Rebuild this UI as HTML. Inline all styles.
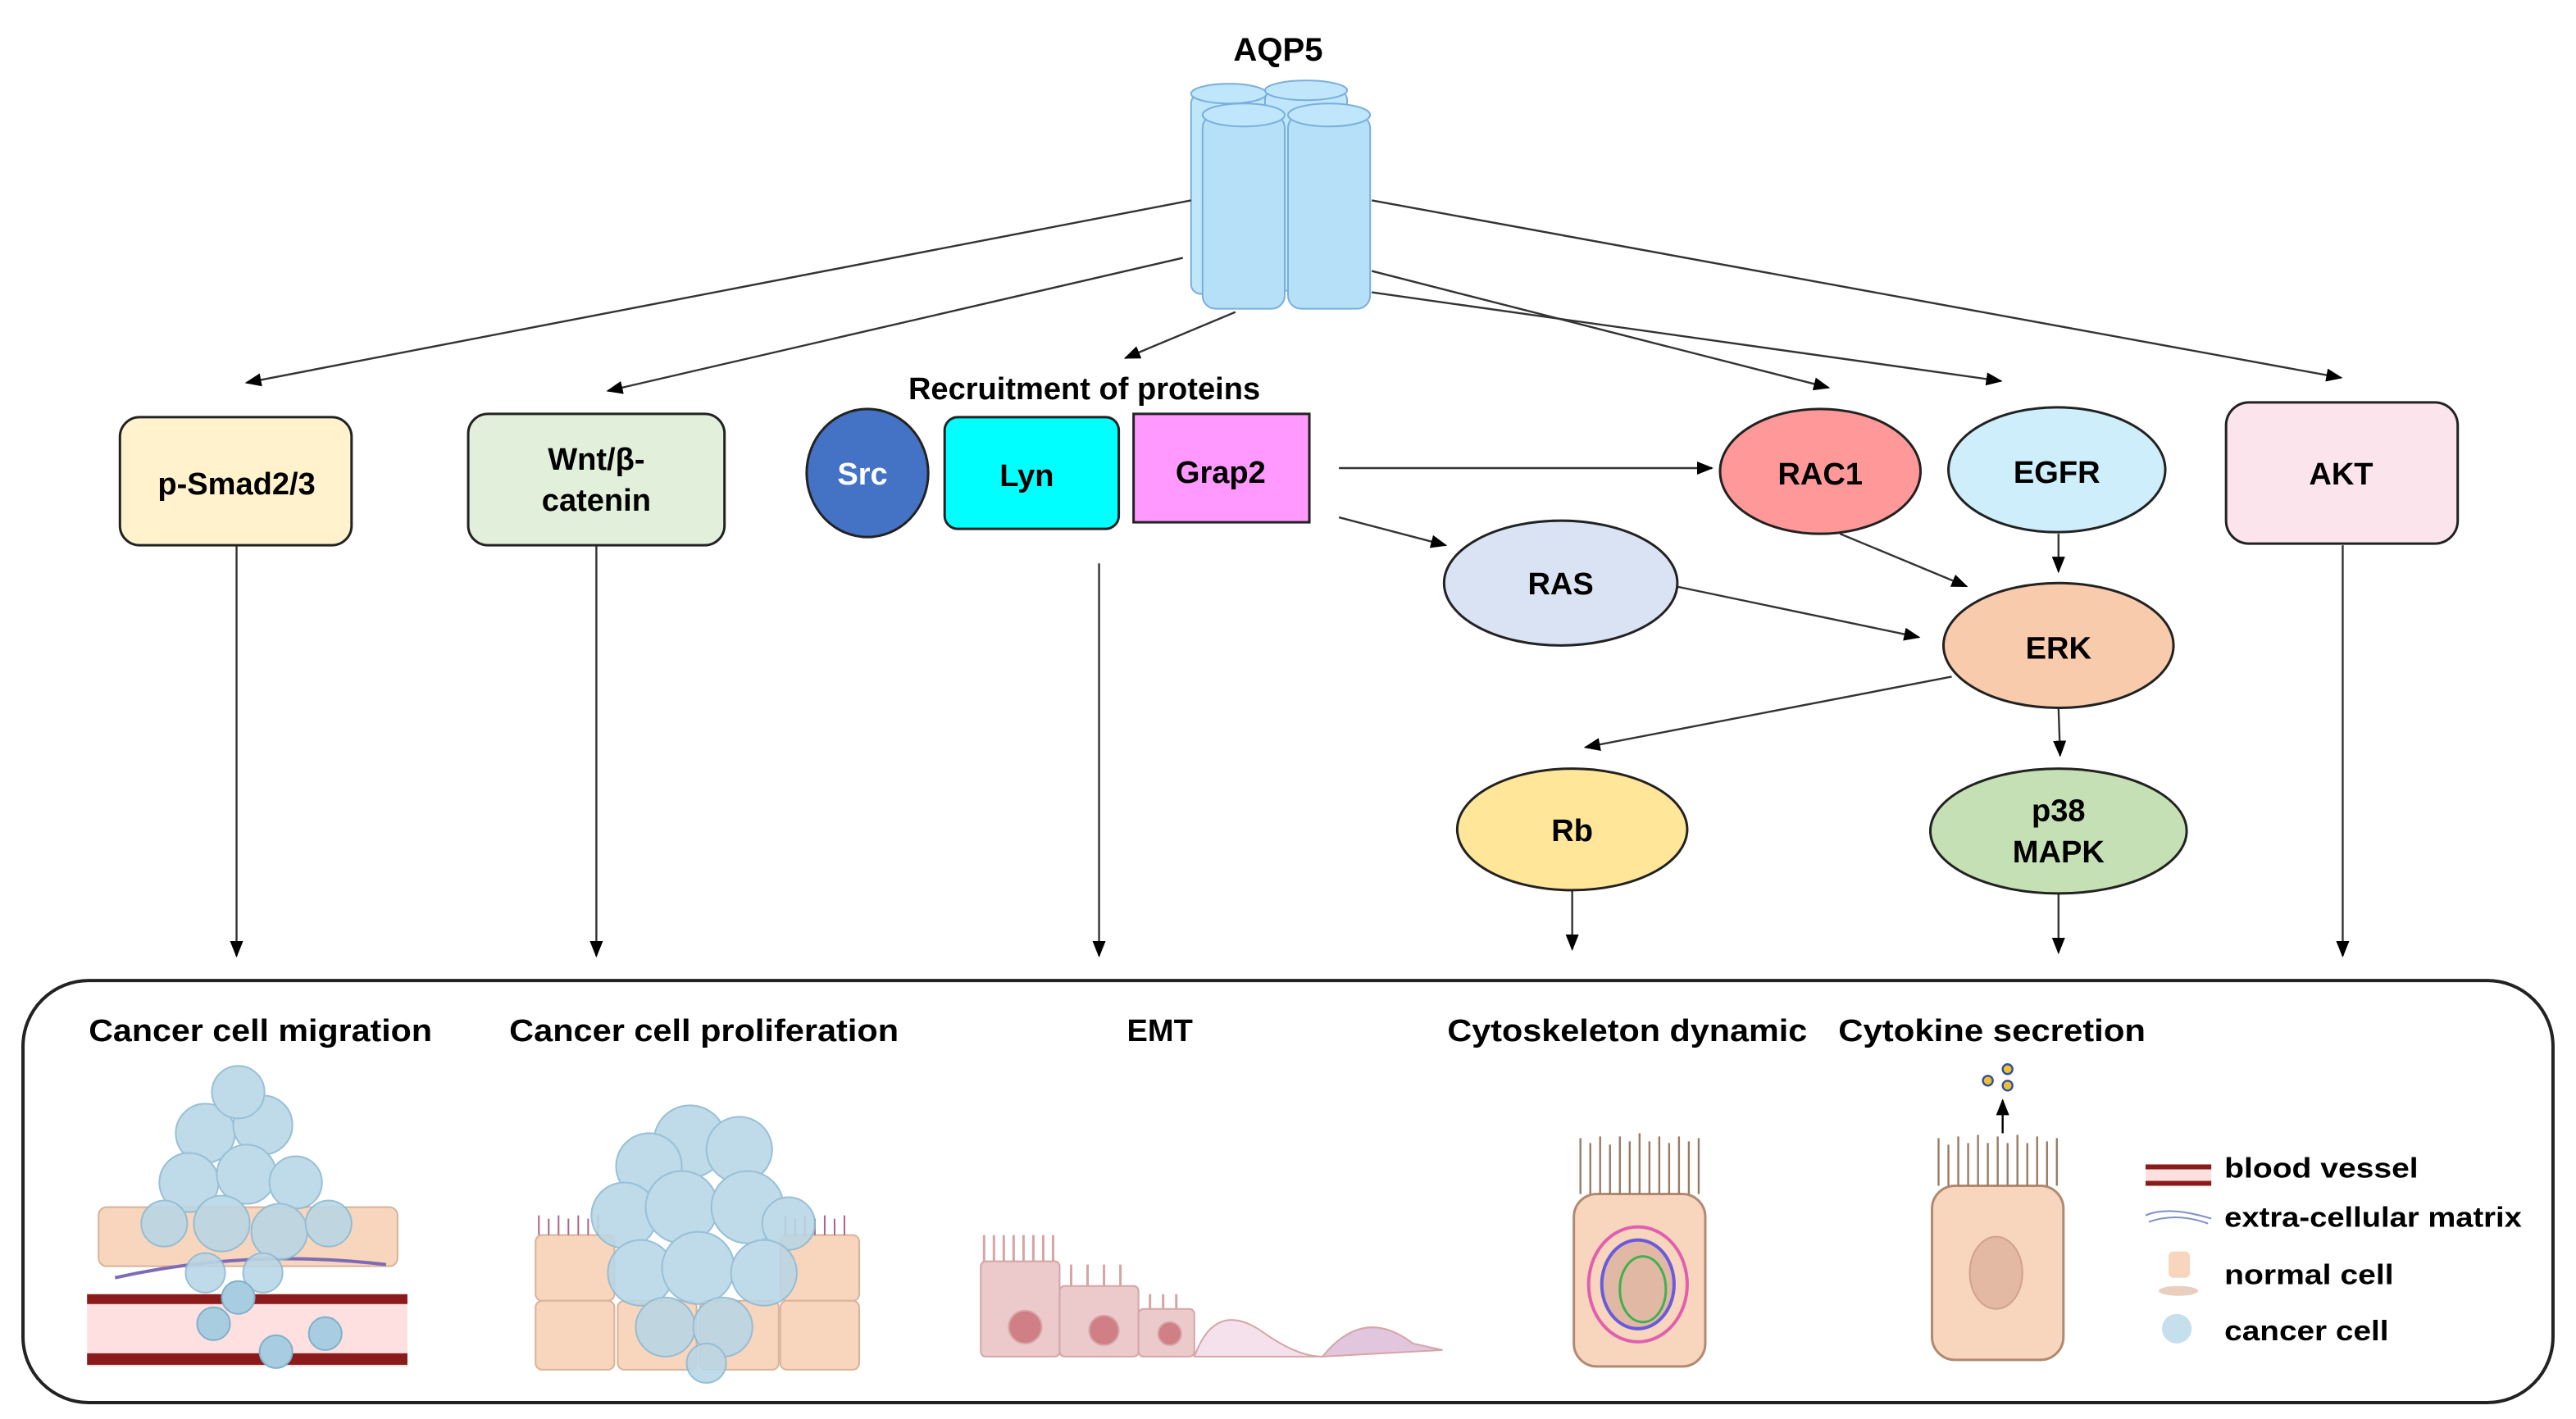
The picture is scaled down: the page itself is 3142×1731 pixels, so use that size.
<!DOCTYPE html>
<html><head><meta charset="utf-8"><style>html,body{margin:0;padding:0;background:#fff}svg{display:block}</style></head>
<body>
<svg width="3142" height="1731" viewBox="0 0 1568 864" preserveAspectRatio="none" xmlns="http://www.w3.org/2000/svg" font-family="Liberation Sans, Arial, sans-serif" font-weight="bold">
<defs>
<marker id="a" markerWidth="10" markerHeight="8" refX="9" refY="4" orient="auto" markerUnits="userSpaceOnUse"><path d="M0,0L10,4L0,8z" fill="#000"/></marker>
</defs>
<text x="778" y="37" font-size="20" text-anchor="middle">AQP5</text>
<g stroke="#7aaedc" stroke-width="1" fill="#bfe6fb">
<rect x="725" y="57" width="46" height="122" rx="6"/>
<ellipse cx="748" cy="57" rx="23" ry="6"/>
<rect x="770" y="55" width="50" height="122" rx="6"/>
<ellipse cx="795" cy="55" rx="25" ry="6"/>
<rect x="732" y="70" width="50" height="118" rx="8" fill="#b5e0f8"/>
<ellipse cx="757" cy="70" rx="25" ry="7"/>
<rect x="784" y="70" width="50" height="118" rx="8" fill="#b5e0f8"/>
<ellipse cx="809" cy="70" rx="25" ry="7"/>
</g>
<g stroke="#333" stroke-width="1.2" fill="none" marker-end="url(#a)">
<line x1="725" y1="122" x2="150" y2="233"/>
<line x1="720" y1="157" x2="370" y2="238"/>
<line x1="752" y1="190" x2="685" y2="218"/>
<line x1="835" y1="165" x2="1113" y2="236"/>
<line x1="835" y1="178" x2="1218" y2="232"/>
<line x1="835" y1="122" x2="1425" y2="230"/>
<line x1="815" y1="285" x2="1042" y2="285"/>
<line x1="815" y1="315" x2="880" y2="332"/>
<line x1="1120" y1="325" x2="1197" y2="357"/>
<line x1="1253" y1="325" x2="1253" y2="348"/>
<line x1="1020" y1="357" x2="1168" y2="388"/>
<line x1="1253" y1="431" x2="1254" y2="460"/>
<line x1="1188" y1="412" x2="965" y2="455"/>
<line x1="957" y1="542" x2="957" y2="578"/>
<line x1="1253" y1="544" x2="1253" y2="580"/>
<line x1="1426" y1="332" x2="1426" y2="582"/>
<line x1="144" y1="332" x2="144" y2="582"/>
<line x1="363" y1="332" x2="363" y2="582"/>
<line x1="669" y1="343" x2="669" y2="582"/>
</g>
<text x="660" y="243" font-size="19" text-anchor="middle">Recruitment of proteins</text>
<g stroke="#222" stroke-width="1.5">
<rect x="73" y="254" width="141" height="78" rx="12" fill="#fff2cc"/>
<rect x="285" y="252" width="156" height="80" rx="12" fill="#e2efda"/>
<ellipse cx="528" cy="288" rx="37" ry="39" fill="#4472c4"/>
<rect x="575" y="254" width="106" height="68" rx="8" fill="#00ffff"/>
<rect x="690" y="252" width="107" height="66" fill="#ff99ff"/>
<ellipse cx="1108" cy="287" rx="61" ry="38" fill="#ff9999"/>
<ellipse cx="1252" cy="286" rx="66" ry="38" fill="#cdeefa"/>
<rect x="1355" y="245" width="141" height="86" rx="14" fill="#fce4ec"/>
<ellipse cx="950" cy="355" rx="71" ry="38" fill="#dae3f3"/>
<ellipse cx="1253" cy="393" rx="70" ry="38" fill="#f8cbad"/>
<ellipse cx="957" cy="505" rx="70" ry="37" fill="#ffe699"/>
<ellipse cx="1253" cy="506" rx="78" ry="38" fill="#c5e0b4"/>
</g>
<g font-size="19" text-anchor="middle">
<text x="144" y="301">p-Smad2/3</text>
<text x="363" y="286">Wnt/β-</text><text x="363" y="311">catenin</text>
<text x="525" y="295" fill="#fff">Src</text>
<text x="625" y="296">Lyn</text>
<text x="743" y="294">Grap2</text>
<text x="1108" y="295">RAC1</text>
<text x="1252" y="294">EGFR</text>
<text x="1425" y="295">AKT</text>
<text x="950" y="362">RAS</text>
<text x="1253" y="401">ERK</text>
<text x="957" y="512">Rb</text>
<text x="1253" y="500">p38</text><text x="1253" y="525">MAPK</text>
</g>
<rect x="14" y="597" width="1540" height="257" rx="40" fill="none" stroke="#222" stroke-width="2"/>
<g font-size="19">
<text x="54" y="634" textLength="209" lengthAdjust="spacingAndGlyphs">Cancer cell migration</text>
<text x="310" y="634" textLength="237" lengthAdjust="spacingAndGlyphs">Cancer cell proliferation</text>
<text x="706" y="634" text-anchor="middle">EMT</text>
<text x="881" y="634" textLength="219" lengthAdjust="spacingAndGlyphs">Cytoskeleton dynamic</text>
<text x="1119" y="634" textLength="187" lengthAdjust="spacingAndGlyphs">Cytokine secretion</text>
</g>
<!-- migration -->
<g>
<rect x="60" y="735" width="182" height="36" rx="5" fill="#f8d5bd" stroke="#d9b39a"/>
<rect x="53" y="788" width="195" height="44" fill="#fde0df"/>
<rect x="53" y="788" width="195" height="6" fill="#8b1a1a"/>
<rect x="53" y="824" width="195" height="7" fill="#8b1a1a"/>
<path d="M70 778 Q150 760 235 770" stroke="#7d6bb5" stroke-width="2" fill="none"/>
<g fill="#b9d7e6" stroke="#8dbad2" opacity="0.9">
<circle cx="125" cy="690" r="18"/><circle cx="160" cy="685" r="18"/><circle cx="145" cy="665" r="16"/>
<circle cx="115" cy="720" r="18"/><circle cx="150" cy="715" r="18"/><circle cx="180" cy="720" r="16"/>
<circle cx="100" cy="745" r="14"/><circle cx="135" cy="745" r="17"/><circle cx="170" cy="750" r="17"/><circle cx="200" cy="745" r="14"/>
<circle cx="125" cy="775" r="12"/><circle cx="160" cy="775" r="12"/>
</g>
<g fill="#a9cde0" stroke="#7fb1cc"><circle cx="130" cy="806" r="10"/><circle cx="168" cy="823" r="10"/><circle cx="198" cy="812" r="10"/><circle cx="145" cy="790" r="10"/></g>
</g>
<!-- proliferation -->
<g>
<g fill="#f8d5bd" stroke="#d9b39a">
<rect x="326" y="752" width="48" height="40" rx="4"/><rect x="475" y="752" width="48" height="40" rx="4"/>
<rect x="326" y="792" width="48" height="42" rx="4"/><rect x="376" y="792" width="48" height="42" rx="4"/><rect x="426" y="792" width="48" height="42" rx="4"/><rect x="475" y="792" width="48" height="42" rx="4"/>
</g>
<g stroke="#a68" stroke-width="1" fill="none"><path d="M328 752V740M334 752V742M340 752V740M346 752V742M352 752V740M358 752V742M364 752V740M478 752V740M484 752V742M490 752V740M496 752V742M502 752V740M508 752V742M514 752V740"/></g>
<g fill="#b9d7e6" stroke="#8dbad2" opacity="0.9">
<circle cx="420" cy="695" r="22"/><circle cx="450" cy="700" r="20"/><circle cx="395" cy="710" r="20"/>
<circle cx="380" cy="740" r="20"/><circle cx="415" cy="735" r="22"/><circle cx="455" cy="735" r="22"/><circle cx="480" cy="745" r="16"/>
<circle cx="390" cy="775" r="20"/><circle cx="425" cy="772" r="22"/><circle cx="465" cy="775" r="20"/>
<circle cx="405" cy="808" r="18"/><circle cx="440" cy="808" r="18"/><circle cx="430" cy="830" r="12"/>
</g>
</g>
<!-- EMT -->
<g fill="#ecc9ca" stroke="#d6a5a6">
<rect x="597" y="768" width="48" height="58" rx="3"/>
<rect x="645" y="783" width="48" height="43" rx="3"/>
<rect x="693" y="797" width="34" height="29" rx="3"/>
<path d="M727 826 Q740 790 770 812 Q790 826 805 826z" fill="#f5e1ec"/>
<path d="M805 826 Q830 795 860 818 L878 822 L805 826z" fill="#e2c6de"/>
<circle cx="624" cy="808" r="10" fill="#cf7f85"/><circle cx="672" cy="810" r="9" fill="#cf7f85"/><circle cx="712" cy="812" r="7" fill="#cf7f85"/>
</g>
<g stroke="#d6a5a6" stroke-width="1.5"><path d="M599 768V752M605 768V752M611 768V752M617 768V752M623 768V752M629 768V752M635 768V752M641 768V752M652 783V770M662 783V770M672 783V770M682 783V770M700 797V788M708 797V788M716 797V788" fill="none"/></g>
<!-- cytoskeleton -->
<rect x="958" y="727" width="80" height="105" rx="14" fill="#f8d5bd" stroke="#b08a73" stroke-width="1.5"/>
<g stroke="#9c7b66" stroke-width="1.2" fill="none"><path d="M962 727V693M968 727V696M974 727V692M980 727V697M986 727V692M992 727V695M998 727V690M1004 727V695M1010 727V692M1016 727V696M1022 727V692M1028 727V695M1034 727V693"/></g>
<ellipse cx="997" cy="782" rx="30" ry="35" fill="none" stroke="#e060b0" stroke-width="2"/>
<ellipse cx="997" cy="782" rx="22" ry="27" fill="#e0b8a4" stroke="#6a5adc" stroke-width="2"/>
<ellipse cx="1000" cy="785" rx="14" ry="20" fill="none" stroke="#40b050" stroke-width="1.5"/>
<!-- cytokine -->
<rect x="1176" y="722" width="80" height="106" rx="14" fill="#f8d5bd" stroke="#b08a73" stroke-width="1.5"/>
<ellipse cx="1215" cy="775" rx="16" ry="22" fill="#e3b9a3" stroke="#cfa38c"/>
<g stroke="#9c7b66" stroke-width="1.2" fill="none"><path d="M1180 722V693M1186 722V697M1192 722V692M1198 722V696M1204 722V691M1210 722V696M1216 722V692M1222 722V696M1228 722V691M1234 722V696M1240 722V692M1246 722V695M1252 722V693"/></g>
<line x1="1219" y1="690" x2="1219" y2="670" stroke="#000" stroke-width="1.2" marker-end="url(#a)"/>
<g fill="#f0c030" stroke="#3050a0" stroke-width="1.2"><circle cx="1210" cy="658" r="3"/><circle cx="1222" cy="651" r="3"/><circle cx="1222" cy="661" r="3"/></g>
<!-- legend -->
<rect x="1306" y="711" width="40" height="10" fill="#fde0df"/>
<rect x="1306" y="709" width="40" height="3" fill="#8b1a1a"/><rect x="1306" y="719" width="40" height="3" fill="#8b1a1a"/>
<path d="M1306 740 Q1320 734 1346 742 M1308 744 Q1325 738 1344 745" stroke="#8090c8" stroke-width="1" fill="none"/>
<rect x="1320" y="762" width="13" height="16" rx="3" fill="#f8d5bd"/>
<ellipse cx="1326" cy="786" rx="12" ry="3" fill="#e8cfc0"/>
<circle cx="1325" cy="809" r="9" fill="#c5dfec"/>
<g font-size="17">
<text x="1354" y="717" textLength="118" lengthAdjust="spacingAndGlyphs">blood vessel</text>
<text x="1354" y="747" textLength="181" lengthAdjust="spacingAndGlyphs">extra-cellular matrix</text>
<text x="1354" y="782" textLength="103" lengthAdjust="spacingAndGlyphs">normal cell</text>
<text x="1354" y="816" textLength="100" lengthAdjust="spacingAndGlyphs">cancer cell</text>
</g>
</svg>
</body></html>
